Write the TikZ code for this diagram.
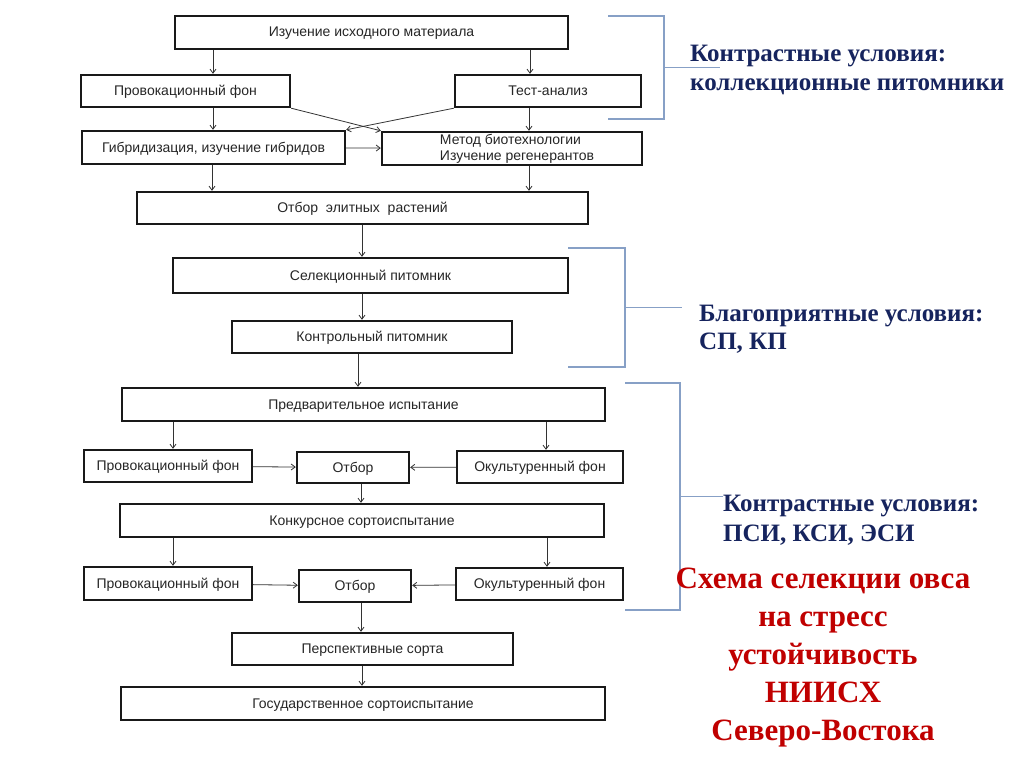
\documentclass[tikz,border=0pt]{standalone}
\usepackage{fontspec}
\setmainfont{Liberation Serif}
\newfontfamily\boxfont{Liberation Sans}
\usetikzlibrary{arrows.meta}
\definecolor{navy}{RGB}{22,36,94}
\definecolor{schemered}{RGB}{192,0,0}
\definecolor{bracketblue}{RGB}{135,160,198}
\tikzset{
  box/.style={draw=black!90, line width=2.4pt, inner sep=0pt, text=black!85,
    text height=11pt, text depth=2pt,
    font=\boxfont\fontsize{14}{16}\selectfont},
  arr/.style={-{Straight Barb[length=4pt,width=6pt]}, line width=0.8pt, black!80},
  brk/.style={bracketblue, line width=1.3pt},
  note/.style={text=navy, font=\bfseries\fontsize{25}{28}\selectfont, inner sep=0pt, anchor=base west},
}
\begin{document}
\begin{tikzpicture}[x=1pt,y=-1pt]
\useasboundingbox[fill=white] (0,0) rectangle (1024,768);

% Collection nurseries
\node[box, minimum width=393, minimum height=33] (isx) at (371.5,32.5) {Изучение исходного материала};
\node[box, minimum width=209, minimum height=32] (prov1) at (185.5,91) {Провокационный фон};
\node[box, minimum width=186, minimum height=32] (test) at (548,91) {Тест-анализ};
\node[box, minimum width=263, minimum height=33] (gibr) at (213.5,147.5) {Гибридизация, изучение гибридов};
\node[box, minimum width=260, minimum height=33, text height=, text depth=, align=left] (metod) at (512,148.5)
  {\hspace*{10pt}\raisebox{-2pt}{Метод биотехнологии}\\\hspace*{10pt}\raisebox{-2pt}{Изучение регенерантов}};
\node[box, minimum width=451, minimum height=32] (otbel) at (362.5,208) {Отбор\ \ элитных\ \ растений};

% Nurseries
\node[box, minimum width=395, minimum height=35] (selek) at (370.5,275.5) {Селекционный питомник};
\node[box, minimum width=280, minimum height=32] (kontr) at (372,337) {Контрольный питомник};

% Variety trials
\node[box, minimum width=483, minimum height=33] (predv) at (363.5,404.5) {Предварительное испытание};
\node[box, minimum width=168, minimum height=32] (prov2) at (168,466) {Провокационный фон};
\node[box, minimum width=112, minimum height=31] (otb2) at (353,467.5) {Отбор};
\node[box, minimum width=166, minimum height=32] (okul2) at (540,467) {Окультуренный фон};
\node[box, minimum width=484, minimum height=33] (konk) at (362,520.5) {Конкурсное сортоиспытание};
\node[box, minimum width=168, minimum height=33] (prov3) at (168,583.5) {Провокационный фон};
\node[box, minimum width=112, minimum height=32] (otb3) at (355,586) {Отбор};
\node[box, minimum width=167, minimum height=32] (okul3) at (539.5,584) {Окультуренный фон};
\node[box, minimum width=281, minimum height=32] (persp) at (372.5,649) {Перспективные сорта};
\node[box, minimum width=484, minimum height=33] (gos) at (363,703.5) {Государственное сортоиспытание};

% Arrows
\draw[arr] (isx.south -| 213,0) -- (prov1.north -| 213,0);
\draw[arr] (isx.south -| 530,0) -- (test.north -| 530,0);
\draw[arr] (prov1.south -| 213,0) -- (gibr.north -| 213,0);
\draw[arr] (test.south -| 529,0) -- (metod.north -| 529,0);
\draw[arr] (prov1.south east) -- (metod.north west);
\draw[arr] (test.south west) -- (gibr.north east);
\draw[arr] (gibr) -- (metod);
\draw[arr] (gibr.south -| 212,0) -- (otbel.north -| 212,0);
\draw[arr] (metod.south -| 529,0) -- (otbel.north -| 529,0);
\draw[arr] (otbel.south -| 362,0) -- (selek.north -| 362,0);
\draw[arr] (selek.south -| 362,0) -- (kontr.north -| 362,0);
\draw[arr] (kontr.south -| 358,0) -- (predv.north -| 358,0);
\draw[arr] (predv.south -| 173,0) -- (prov2.north -| 173,0);
\draw[arr] (predv.south -| 546,0) -- (okul2.north -| 546,0);
\draw[arr] (prov2) -- (otb2);
\draw[arr] (okul2) -- (otb2);
\draw[arr] (otb2.south -| 361,0) -- (konk.north -| 361,0);
\draw[arr] (konk.south -| 173,0) -- (prov3.north -| 173,0);
\draw[arr] (konk.south -| 547,0) -- (okul3.north -| 547,0);
\draw[arr] (prov3) -- (otb3);
\draw[arr] (okul3) -- (otb3);
\draw[arr] (otb3.south -| 361,0) -- (persp.north -| 361,0);
\draw[arr] (persp.south -| 362,0) -- (gos.north -| 362,0);

% Brackets
\foreach \xa/\xb/\ya/\yb/\xc in {608/664/16/119/720, 568/625/248/367/682, 625/680/383/610/723} {
  \draw[brk] (\xa,\ya) -| (\xb,\yb) -- (\xa,\yb);
  \draw[brk] (\xb,{(\ya+\yb)/2}) -- (\xc,{(\ya+\yb)/2});
}

% Conditions
\node[note] (c1a) at (690,62) {Контрастные условия:};
\node[note] (c1b) at ([yshift=-28]c1a.base west) {коллекционные питомники};
\node[note] (c2a) at (699,321) {Благоприятные условия:};
\node[note] (c2b) at ([yshift=-28]c2a.base west) {СП, КП};
\node[note] (c3a) at (723,511) {Контрастные условия:};
\node[note] (c3b) at ([yshift=-30]c3a.base west) {ПСИ, КСИ, ЭСИ};

\node[text=schemered, font=\bfseries\fontsize{31}{38}\selectfont, align=center, inner sep=0pt, anchor=north] (title) at (823,568)
  {Схема селекции овса\\на стресс\\устойчивость\\НИИСХ\\Северо-Востока};
\end{tikzpicture}
\end{document}
